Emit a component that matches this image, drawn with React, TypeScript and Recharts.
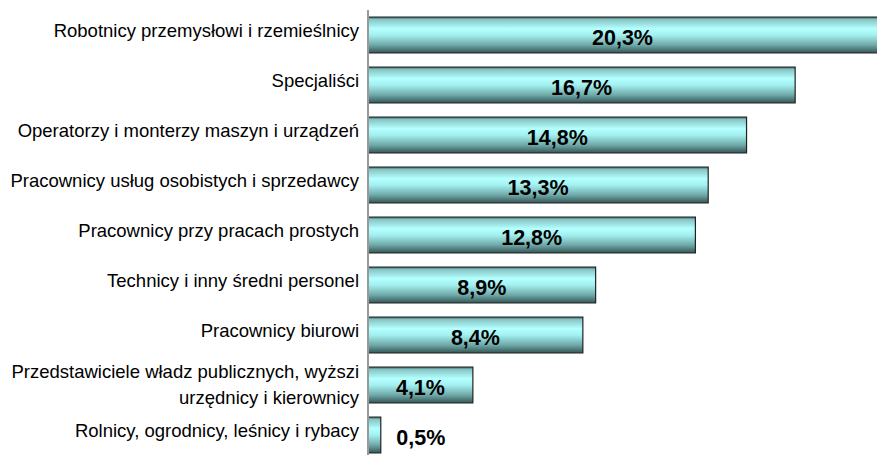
import React from "react";
import { BarChart, Bar, XAxis, YAxis, LabelList } from "recharts";

const categories = [
  "Robotnicy przemysłowi i rzemieślnicy",
  "Specjaliści",
  "Operatorzy i monterzy maszyn i urządzeń",
  "Pracownicy usług osobistych i sprzedawcy",
  "Pracownicy przy pracach prostych",
  "Technicy i inny średni personel",
  "Pracownicy biurowi",
  "Przedstawiciele władz publicznych, wyższi\nurzędnicy i kierownicy",
  "Rolnicy, ogrodnicy, leśnicy i rybacy",
];
const values = [20.3, 16.7, 14.8, 13.3, 12.8, 8.9, 8.4, 4.1, 0.5];
const valueLabels = ["20,3%", "16,7%", "14,8%", "13,3%", "12,8%", "8,9%", "8,4%", "4,1%", "0,5%"];

const data = categories.map((c, i) => ({ name: c, value: values[i], label: valueLabels[i] }));

const CHART_W = 877;
const CHART_H = 460;
const Y_W = 368;
const FONT = "'Liberation Sans', Arial, sans-serif";

const CategoryTick = (props: any) => {
  const { x, y, payload } = props;
  const lines = String(payload.value).split("\n");
  const lh = 26;
  const start = lines.length > 1 ? -((lines.length - 1) * lh) / 2 - 1 : -5;
  return (
    <g>
      {lines.map((l, i) => (
        <text
          key={i}
          x={x - 1}
          y={y + start + i * lh}
          textAnchor="end"
          dominantBaseline="central"
          fontFamily={FONT}
          fontSize={18.5}
          fill="#000"
        >
          {l}
        </text>
      ))}
    </g>
  );
};

const ValueLabel = (props: any) => {
  const { x, y, width, height, value } = props;
  const visibleW = Math.min(width, CHART_W - x);
  const outside = visibleW < 30;
  const cx = outside ? x + width + 40 : x + visibleW / 2;
  return (
    <text
      x={cx}
      y={y + height / 2 + 2.5}
      textAnchor="middle"
      dominantBaseline="central"
      fontFamily={FONT}
      fontSize={21.5}
      fontWeight="bold"
      fill="#000"
    >
      {value}
    </text>
  );
};

export default function App() {
  return (
    <div style={{ position: "absolute", left: 0, top: 0, width: CHART_W, height: 455, overflow: "hidden", background: "#fff" }}>
      <BarChart
        width={CHART_W}
        height={CHART_H}
        data={data}
        layout="vertical"
        margin={{ top: 10, right: 0, bottom: 0, left: 0 }}
        barCategoryGap={7}
      >
        <defs>
          <linearGradient id="barGrad" x1="0" y1="0" x2="0" y2="1">
            <stop offset="0" stopColor="#3f6262" />
            <stop offset="0.07" stopColor="#86c4c4" />
            <stop offset="0.32" stopColor="#b4ffff" />
            <stop offset="0.5" stopColor="#a4f0f0" />
            <stop offset="0.78" stopColor="#6fa8a8" />
            <stop offset="1" stopColor="#355555" />
          </linearGradient>
        </defs>
        <XAxis type="number" domain={[0, 19.9]} allowDataOverflow hide />
        <YAxis
          type="category"
          dataKey="name"
          width={Y_W}
          axisLine={{ stroke: "#999", strokeWidth: 2 }}
          tickLine={false}
          tick={<CategoryTick />}
          interval={0}
        />
        <Bar dataKey="value" fill="url(#barGrad)" stroke="#222" strokeWidth={1.2} isAnimationActive={false}>
          <LabelList dataKey="label" content={<ValueLabel />} />
        </Bar>
      </BarChart>
    </div>
  );
}
